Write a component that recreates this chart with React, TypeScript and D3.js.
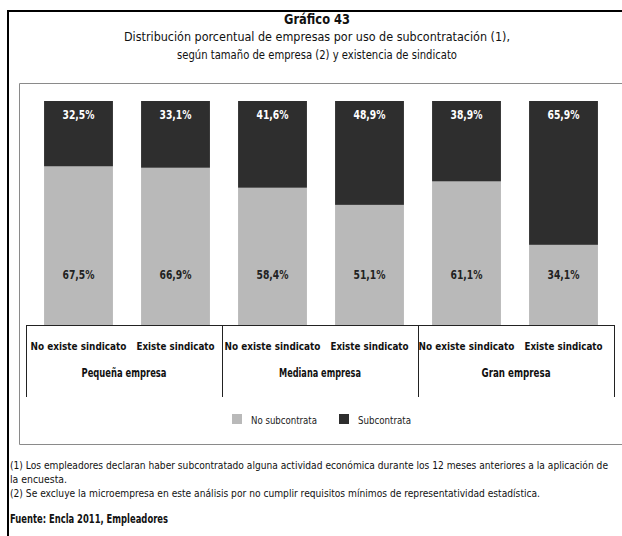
import React from "react";
import * as d3 from "d3";

const categories = ["No existe sindicato", "Existe sindicato", "No existe sindicato", "Existe sindicato", "No existe sindicato", "Existe sindicato"];
const groups = ["Pequeña empresa", "Mediana empresa", "Gran empresa"];
const noSubcontrata = [67.5, 66.9, 58.4, 51.1, 61.1, 34.1];
const subcontrata = [32.5, 33.1, 41.6, 48.9, 38.9, 65.9];
const seriesNames = ["No subcontrata", "Subcontrata"];
const titleLines = ["Gráfico 43", "Distribución porcentual de empresas por uso de subcontratación (1),", "según tamaño de empresa (2) y existencia de sindicato"];
const notes = [
  "(1) Los empleadores declaran haber subcontratado alguna actividad económica durante los 12 meses anteriores a la aplicación de",
  "la encuesta.",
  "(2) Se excluye la microempresa en este análisis por no cumplir requisitos mínimos de representatividad estadística.",
];
const source = "Fuente: Encla 2011, Empleadores";

const W = 622, H = 536;
const FONT = "'DejaVu Sans Condensed', 'Liberation Sans', sans-serif";
const DARK = "#2e2e2e";
const GRAY = "#b9b9b9";

function T(props: any) {
  const { len, children, ...rest } = props;
  return (
    <text {...rest} textLength={len} lengthAdjust="spacingAndGlyphs">{children}</text>
  );
}

const fmt = (v: number) => v.toFixed(1).replace(".", ",") + "%";

export default function App() {
  const idx = categories.map((_, i) => i);
  const x = d3.scaleBand<number>().domain(idx).range([30, 612]).paddingInner(0.29).paddingOuter(0.145);
  const y = d3.scaleLinear().domain([0, 95.3]).range([325, 101]).clamp(true);
  const gx = d3.scaleBand<number>().domain([0, 1, 2]).range([26, 614]);

  const stack = d3.stack<any>().keys(["no", "sub"])(idx.map(i => ({ no: noSubcontrata[i], sub: subcontrata[i] })));
  const colors = [GRAY, DARK];
  const titleLen = [66, 386, 280];
  const groupLen = [85, 82, 69];
  const noteLen = [598, 57, 530];

  return (
    <svg width={W} height={H} style={{ position: "absolute", left: 0, top: 0 }} fontFamily={FONT}>
      <rect width={W} height={H} fill="#fff" />
      <path d={`M8,${H} V11 H${W}`} fill="none" stroke="#000" strokeWidth={2} />
      <path d={`M${W},83.5 H19.5 V444.5 H${W}`} fill="none" stroke="#8a8a8a" strokeWidth={1} />

      {titleLines.map((t, i) => (
        <T key={i} x={317} y={[24, 41, 59][i]} textAnchor="middle" fontSize={i === 0 ? 14 : 13} len={titleLen[i]}
          fontWeight={i === 0 ? "bold" : "normal"} fill="#111">{t}</T>
      ))}

      {stack.map((s, si) => (
        <g key={si}>
          {s.map((d, i) => (
            <rect key={i} x={x(i)} width={x.bandwidth()} y={y(d[1])} height={y(d[0]) - y(d[1])} fill={colors[si]} />
          ))}
        </g>
      ))}
      {idx.map(i => (
        <g key={i} fontWeight="bold" fontSize={12} textAnchor="middle">
          <T x={x(i)! + x.bandwidth() / 2} y={y(95.3) + 18} fill="#fff" len={32}>{fmt(subcontrata[i])}</T>
          <T x={x(i)! + x.bandwidth() / 2} y={279} fill="#222" len={32}>{fmt(noSubcontrata[i])}</T>
        </g>
      ))}

      <line x1={26} x2={614} y1={325.5} y2={325.5} stroke="#222" />
      {[0, 1, 2, 3].map(k => {
        const xx = k < 3 ? gx(k)! : gx.range()[1];
        return <line key={k} x1={Math.round(xx) + 0.5} x2={Math.round(xx) + 0.5} y1={325} y2={397} stroke="#222" />;
      })}
      {idx.map(i => (
        <T key={i} x={x(i)! + x.bandwidth() / 2} y={350} textAnchor="middle" fontSize={11} fontWeight="bold" fill="#111"
          len={i % 2 === 0 ? 96 : 78}>{categories[i]}</T>
      ))}
      {groups.map((g, k) => (
        <T key={k} x={gx(k)! + gx.bandwidth() / 2} y={377} textAnchor="middle" fontSize={12} fontWeight="bold" fill="#111"
          len={groupLen[k]}>{g}</T>
      ))}

      {seriesNames.map((n, i) => (
        <g key={i} transform={`translate(${[232, 339][i]},414)`}>
          <rect width={10} height={10} fill={colors[i]} />
          <T x={19} y={9.5} fontSize={11} fill="#222" len={[66, 53][i]}>{n}</T>
        </g>
      ))}

      {notes.map((n, i) => (
        <T key={i} x={10} y={469 + i * 14} fontSize={10.2} fill="#111" len={noteLen[i]}>{n}</T>
      ))}
      <T x={10} y={523} fontSize={12} fontWeight="bold" fill="#111" len={158}>{source}</T>
    </svg>
  );
}
